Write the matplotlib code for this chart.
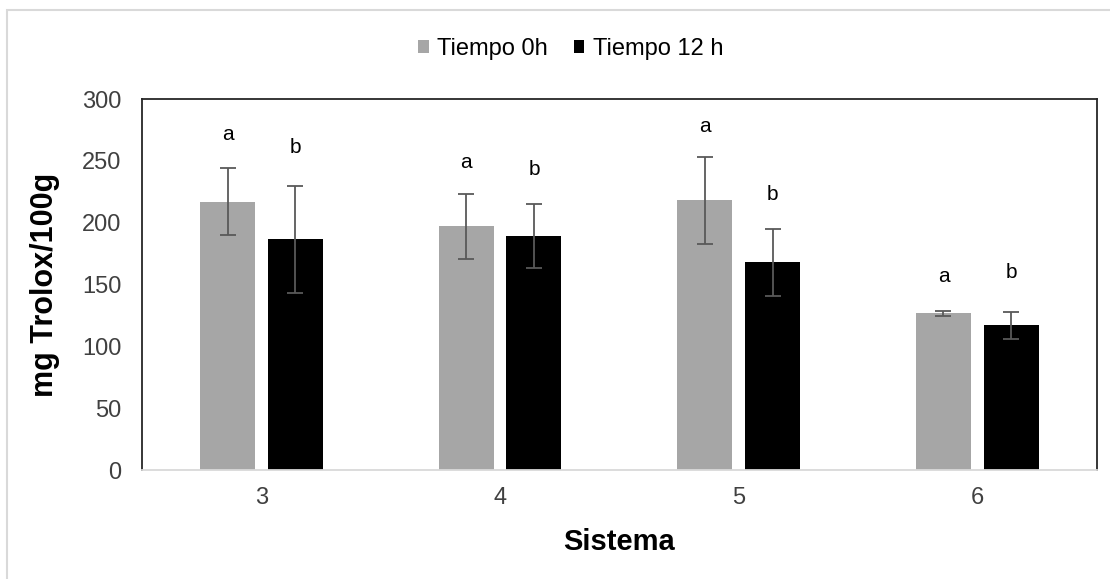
import numpy as np
import matplotlib.pyplot as plt
from matplotlib.patches import Rectangle

plt.rcParams["font.family"] = ["Liberation Sans", "DejaVu Sans"]

sistemas = ["3", "4", "5", "6"]
t0 = [217, 197, 218, 127]
t0_err = [27, 26, 35, 2]
t12 = [186.5, 189, 168, 117]
t12_err = [43.5, 26, 27.3, 11]
letras_t0 = ["a", "a", "a", "a"]
letras_t12 = ["b", "b", "b", "b"]
letras_t0_y = [271, 249, 277.6, 156.3]
letras_t12_y = [261, 243, 223.2, 159.5]

fig = plt.figure(figsize=(11.1, 5.79), dpi=100)
ax = fig.add_axes([0.128, 0.188, 0.86, 0.641])

# light frame around the whole chart
fig.patches.append(Rectangle((7 / 1110, -0.05), 1.2, 1 - 10 / 579 + 0.05,
                             transform=fig.transFigure, fill=False,
                             edgecolor="#d9d9d9", linewidth=1.5))

x = np.arange(len(sistemas))
w = 0.23
off = 0.142
ekw = dict(ecolor="#595959", elinewidth=1.3, capsize=6, capthick=1.3)
ax.bar(x - off, t0, w, color="#a6a6a6", label="Tiempo 0h",
       yerr=t0_err, error_kw=ekw)
ax.bar(x + off, t12, w, color="#000000", label="Tiempo 12 h",
       yerr=t12_err, error_kw=ekw)

for i in range(len(sistemas)):
    ax.text(x[i] - off, letras_t0_y[i], letras_t0[i], ha="center", va="center", fontsize=15)
    ax.text(x[i] + off, letras_t12_y[i], letras_t12[i], ha="center", va="center", fontsize=15)

ax.set_xlim(-0.5, 3.5)
ax.set_ylim(0, 300)
ax.set_yticks(range(0, 301, 50))
ax.set_xticks(x)
ax.set_xticklabels(sistemas)
ax.tick_params(length=0, labelsize=17, colors="#404040")
ax.tick_params(axis="y", pad=15)
ax.tick_params(axis="x", pad=12)

for s in ["left", "top", "right"]:
    ax.spines[s].set_color("#262626")
    ax.spines[s].set_linewidth(1.3)
ax.spines["bottom"].set_color("#d9d9d9")
ax.spines["bottom"].set_linewidth(1.3)

ax.set_xlabel("Sistema", fontsize=21, fontweight="bold", labelpad=14)
ax.set_ylabel("mg Trolox/100g", fontsize=22, fontweight="bold", labelpad=16)

fig.legend(loc="center", bbox_to_anchor=(0.514, 0.915), ncol=2, frameon=False,
           fontsize=17, handlelength=0.45, handleheight=0.45,
           handletextpad=0.35, columnspacing=1.1)

fig.savefig("out.png", dpi=100)
